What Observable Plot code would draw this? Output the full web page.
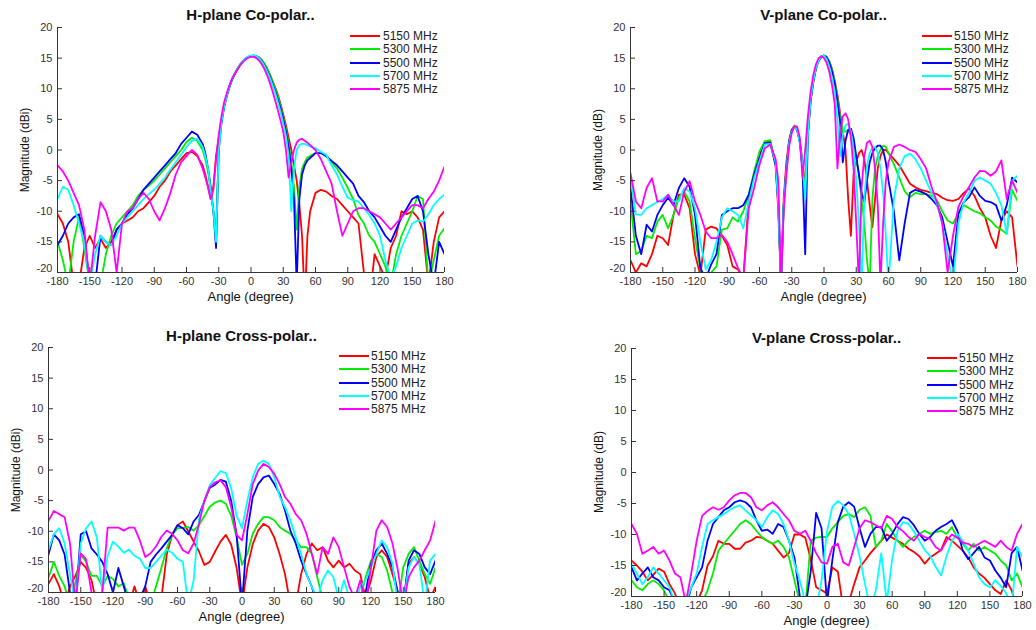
<!DOCTYPE html>
<html><head><meta charset="utf-8">
<script src="https://cdn.jsdelivr.net/npm/d3@7"></script>
<script src="https://cdn.jsdelivr.net/npm/@observablehq/plot@0.6"></script>
<style>
body{margin:0;background:#fff;font-family:"Liberation Sans",Arial,sans-serif;}
#root{position:relative;width:1036px;height:630px;overflow:hidden;background:#fff;}
.t{position:absolute;white-space:nowrap;color:#111;}
.title{font-weight:bold;font-size:15px;transform:translate(-50%,-50%);}
.ylab{font-size:12px;transform:translate(-50%,-50%) rotate(-90deg);}
.xlab{font-size:13px;transform:translate(-50%,-50%);}
.leg{position:absolute;font-size:12px;color:#222;}
.sw{position:absolute;width:30px;height:2px;}
.lt{position:absolute;transform:translateY(-50%);white-space:nowrap;}
</style></head><body><div id="root"></div>
<script>
// ---------- data ----------
const freqLabels = ["5150 MHz", "5300 MHz", "5500 MHz", "5700 MHz", "5875 MHz"];
const xTicks = [-180,-150,-120,-90,-60,-30,0,30,60,90,120,150,180];
const yTicks = [-20,-15,-10,-5,0,5,10,15,20];

// H-plane co-polar
const hCoAngles = [-180,-175,-170,-165,-160,-155,-150,-145,-140,-135,-130,-125,-120,-115,-110,-105,-100,-95,-90,-85,-80,-75,-70,-65,-60,-55,-50,-45,
 -42.5,-40,-37.5,-35,-32.5,-30,-27.5,-25,-22.5,-20,-17.5,-15,-12.5,-10,-7.5,-5,-2.5,0,2.5,5,7.5,10,12.5,15,17.5,20,22.5,25,27.5,30,32.5,35,37.5,40,42.5,45,47.5,50,52.5,55,
 60,65,70,75,80,85,90,95,100,105,110,115,120,125,130,135,140,145,150,155,160,165,170,175,180];
const hCo5150 = [-10.5,-12,-15,-22,-22,-16,-14,-16,-14.5,-16,-15,-13,-12,-11.5,-11,-10,-9.5,-8.5,-7.5,-6,-5,-3.5,-2.5,-1.5,-0.5,-0.3,-1,-2.5,
 -4,-6,-8,-6,-1,2,4.8,7.2,9,10.4,11.6,12.5,13.3,14,14.5,14.9,15.2,15.3,15.4,15.3,15.1,14.7,14.1,13.3,12.4,11.3,10.2,9,7.5,5.8,4,2,0,-2.5,-5,-9,-14,-25,-14,-10,
 -7,-6.5,-6.8,-7.5,-8,-9,-10,-11,-12,-20,-25,-17,-19,-21,-16,-14,-10,-10.5,-10,-11,-13,-22,-15,-11,-10];
const hCo5300 = [-15,-18,-22,-15,-11,-16,-22,-22,-22,-17,-14,-12,-11,-10,-9,-7.5,-6.5,-5.8,-5,-4,-3,-2,-1,0,1.3,2,1.5,0,
 -1.5,-3.5,-6.5,-10,-13,1,4.6,7.1,8.9,10.4,11.6,12.5,13.3,14,14.5,14.9,15.2,15.3,15.4,15.3,15.1,14.7,14.1,13.3,12.3,11.2,10,8.7,7.2,5.3,3.3,1,-2,-6,-13,-6,-3,-2,-1.2,-1,
 -0.5,-0.5,-1,-2,-3,-4.5,-6.2,-8,-10.6,-12,-14,-15,-17,-19,-22,-17,-14,-12,-10,-7.5,-8,-22,-18,-14,-12.8];
const hCo5500 = [-15.5,-14,-12,-11,-10.5,-14,-22,-22,-14,-15,-15.5,-13,-12,-10.5,-9.5,-8,-6.5,-5.5,-4.5,-3.5,-2.5,-1.5,-0.5,1,2,3,2.5,1,
 -0.5,-3,-6,-10,-16,0,4.4,7,8.8,10.3,11.5,12.4,13.2,13.9,14.5,14.9,15.2,15.3,15.4,15.3,15,14.5,13.8,12.9,12,10.8,9.6,8.2,6.8,5,3,0.5,-3,-8,-22,-8,-4,-2.5,-1.7,-1.3,
 -0.5,-0.5,-1,-1.8,-2.5,-3.5,-4.5,-5.5,-7.5,-8.5,-10,-11,-12.5,-14,-15,-13,-11,-9.5,-8,-7.5,-10,-17,-22,-15,-17];
const hCo5700 = [-8,-6,-6.5,-9,-12,-15,-22,-17,-14,-15,-15.5,-14,-12,-11,-10,-9,-8,-7.2,-6.5,-5.5,-4.5,-3.2,-2,-0.8,0.5,1.5,1.8,0.5,
 -1,-3,-6.5,-10,-15,0,4.5,7.1,8.9,10.4,11.6,12.5,13.3,14,14.6,15,15.3,15.4,15.5,15.3,15,14.4,13.7,12.8,11.8,10.6,9.3,7.8,6.2,4.3,2.3,-1,-10,-3,0,0.8,1,1,0.8,0.6,
 0.3,-0.3,-0.8,-2.5,-4,-6,-7.8,-8.2,-8.4,-9.5,-10.6,-12,-14,-18,-21,-19,-16,-14,-12,-11.5,-11.7,-10.5,-9,-8,-7.3];
const hCo5875 = [-2.5,-3.5,-5,-7,-9,-13,-22,-14,-8.5,-10,-13,-20,-12,-10,-9.5,-8,-7,-8,-10,-11.5,-9.5,-7,-4,-2,-1,0,-0.8,-3,
 -4.5,-6,-8,-6.5,-1.5,2.5,5.5,7.8,9.3,10.6,11.7,12.5,13.2,13.9,14.4,14.8,15.1,15.2,15.2,15,14.6,14,13.2,12.2,11,9.6,8.1,6.5,4.8,3,0,-4.5,-2,0,1.2,1.7,1.8,1.5,1.2,0.8,
 0,-1.5,-3.5,-5.5,-10,-14,-12,-10,-9.5,-9.5,-10,-10.5,-11,-12,-13,-12,-11,-10,-9,-9,-9.5,-8,-6.8,-5,-2.7];

// V-plane co-polar
const vCoAngles = [-180,-175,-170,-165,-160,-155,-150,-145,-140,-135,-130,-125,-120,-115,-110,-105,-100,-95,-90,-85,-80,-75,-70,-65,-60,-55,-50,-45,
 -42.5,-40,-37.5,-35,-32.5,-30,-27.5,-25,-22.5,-20,-17.5,-15,-12.5,-10,-7.5,-5,-2.5,0,2.5,5,7.5,10,12.5,15,17.5,20,22.5,25,27.5,30,32.5,35,37.5,40,42.5,45,47.5,50,52.5,55,57.5,60,
 65,70,75,80,85,90,95,100,105,110,115,120,125,130,135,140,145,150,155,160,165,170,175,180];
const vCo5150 = [-18,-20,-18.5,-19,-17,-14,-14.4,-15.5,-10.6,-7.3,-7.3,-9.5,-17,-20.5,-13,-12.5,-12.8,-14,-15.5,-19,-19.5,-21,-8,-4,-0.8,1.4,1.3,-2.5,
 -10,-22,-8,-2,1.5,3.3,3.8,3.3,1.5,-2,-6,2.5,8,11,13.3,14.6,15.2,15.4,15.2,14.5,13.2,11.3,9,6,3,0,-8,-14,-4,-2,-0.5,0,-1.5,-5,-9,-12.6,-8,-3,-1,0,0,-0.5,
 -1.5,-2.5,-4,-5.5,-6.1,-6.5,-6.7,-7,-7.2,-7.8,-8.2,-8.3,-8,-7,-6.3,-7.5,-9.5,-11,-14,-16,-11.5,-10,-11,-19];
const vCo5300 = [-8.5,-17,-16.5,-14,-14.4,-11.7,-10.6,-12.8,-10.6,-7.8,-6.8,-8.4,-14.4,-19.5,-21,-20,-19,-13,-12.8,-11,-11.7,-10,-7.3,-3.5,-0.2,1.4,1.6,-2,
 -8,-22,-9,-3,1.5,3.3,4,3.5,1.5,-2,-7,2.5,8,11.2,13.4,14.7,15.3,15.4,15.2,14.4,13,11,8.5,5.5,3,3,3.2,2.5,1,-1.5,-4,-8,-12,-18,-22,-8,-3,-1,0,0.7,0.5,-0.5,
 -2.3,-4.5,-6.7,-7.7,-7,-7.2,-7.2,-7.5,-8.2,-10,-11.5,-12,-10.4,-9,-9.5,-10,-10.3,-11,-11.5,-12.5,-13,-13.7,-6.5,-8.3];
const vCo5500 = [-6.2,-14,-17,-12.2,-13.3,-10.6,-9,-7.8,-9,-6.2,-4.6,-6,-10.6,-19.3,-21,-18.7,-17,-10.6,-10,-9.5,-9.5,-9,-7.3,-4,-1.3,1.1,1.2,-2.5,
 -9,-22,-9,-3,1.3,3.2,3.8,3.3,1.2,-3,-17,2.5,8,11.2,13.3,14.6,15.2,15.4,15.1,14.2,12.8,10.8,8,4.5,-2,1.5,3.3,3.5,2,-1,-4,-7,-8.5,-5,-2,-0.5,0.3,0.7,0.7,0,-2,-5,
 -10,-18,-12,-7,-6.5,-6.8,-7.2,-8,-9,-11,-15,-19,-10.4,-8.5,-7.7,-6.1,-7.5,-8.3,-8.5,-9,-11.5,-9,-4.5,-5.3];
const vCo5700 = [-4.5,-10.5,-10.6,-9.5,-9,-8.5,-8,-7.3,-8.4,-8.4,-6.2,-6.8,-9.5,-15,-19.5,-18,-15,-11,-9.5,-10,-10.6,-12.8,-8.5,-4.6,-1.8,0.9,1,-2,
 -9,-22,-9,-3.5,1,3,3.7,3.3,1.2,-2.5,-8,2.5,8.3,11.3,13.4,14.6,15.3,15.4,14.8,13.6,11.8,9.5,5,-1,2.5,4,4.3,3,0,-5,-12,-22,-8,-2.5,-0.5,0.4,0.5,-0.5,-3,-7,-14,-22,
 -8,-3,-1,-0.6,-1.5,-3,-5,-7,-8.8,-12,-17,-22,-12,-8.5,-7,-5,-4.5,-5,-5.5,-7,-9,-13.7,-5,-4.2];
const vCo5875 = [-3.8,-8.4,-9.5,-6.2,-4.6,-8.4,-8.4,-7.3,-9,-10.6,-6.8,-5.1,-8.4,-10.6,-13.3,-14.4,-14.4,-13.9,-15,-17,-19.3,-21,-9.5,-6.2,-2.4,0.3,0.9,-1.5,
 -5,-22,-10,-4,0.5,2.8,3.9,3.8,2,-4.5,0,5.5,9.5,12.2,14,15,15.3,15,14.2,12.7,10.5,7.5,-3,3,5.5,6,5,2,-3,-12,-22,-6,-1,1.2,1.5,0.5,-3,-9,-22,-12,-5,-2,
 0.5,0.9,0.5,0,-0.3,-1.5,-3,-6,-8.5,-12,-20,-14,-9.3,-7.5,-6,-4.5,-3.4,-3.5,-4.2,-3.5,-1.7,-8,-5,-7];

// cross-polar panels share a 5-degree grid
const xAngles = [-180,-175,-170,-165,-160,-155,-150,-145,-140,-135,-130,-125,-120,-115,-110,-105,-100,-95,-90,-85,-80,-75,-70,-65,-60,-55,-50,-45,-40,-35,-30,-25,-20,-15,-10,-5,
 0,5,10,15,20,25,30,35,40,45,50,55,60,65,70,75,80,85,90,95,100,105,110,115,120,125,130,135,140,145,150,155,160,165,170,175,180];

// H-plane cross-polar
const hX5150 = [-18.6,-17,-19,-22,-19,-17.3,-15,-16,-18,-22,-22,-22,-22,-22,-22,-22,-19,-22,-19,-22,-22,-21,-13.8,-10.6,-9,-8.4,-10,-11.7,-13.3,-15.5,
 -15,-13.3,-11.7,-10.6,-12.2,-16,-22,-15.9,-12.1,-9.9,-8.8,-9.3,-11,-13.7,-17,-22,-22,-17,-13.7,-12,-13.1,-12.6,-14.8,-15.9,-14.8,-15.9,-15.3,-16.4,-17,-21,
 -18,-14.2,-13.1,-14.2,-17,-20,-22,-15.3,-14.2,-15.3,-17.5,-21,-19.1];
const hX5300 = [-17.6,-15,-17.3,-19,-22,-18.5,-13.8,-15,-17.3,-17.3,-19,-17.3,-17.8,-19,-18.5,-21,-22,-22,-22,-22,-19,-16,-12.8,-10.6,-9.5,-9.5,-9.3,-9.9,-9,-7.5,
 -6,-5.3,-5,-5.5,-7.5,-11,-15.5,-13.7,-10.4,-8.8,-7.7,-7.7,-8.2,-9.3,-9.9,-10.4,-11.5,-12.6,-12.6,-13.7,-17.5,-21,-22,-22,-22,-22,-22,-22,-21,-17.5,
 -14.8,-13.7,-14.2,-16.4,-20,-22,-15.9,-13.7,-12.6,-14.8,-17,-18.6,-15.9];
const hX5500 = [-13.8,-10.5,-11.5,-13.8,-20,-22,-10.5,-10,-12.8,-13.8,-15,-17,-20,-16,-19,-22,-22,-21,-19,-15,-13.8,-12.8,-11.7,-10.6,-9,-9.5,-10.5,-8.4,-7.3,-5.1,
 -2.9,-2.4,-1.6,-1.9,-5.1,-10.6,-22,-9.9,-4.4,-2.3,-1.2,-0.9,-2.3,-3.9,-6.6,-9.9,-12,-14.8,-17,-19.1,-22,-22,-22,-22,-22,-22,-22,-22,-22,-20,
 -15.3,-13.1,-12,-13.7,-15.9,-20,-22,-14.8,-13.1,-13.7,-15.9,-17,-14.8];
const hX5700 = [-13,-10.5,-9.5,-12,-17,-22,-12,-9.5,-8.4,-11,-20,-14,-11.7,-12.5,-13.5,-13,-14,-14.5,-16,-16,-15,-14,-13,-13.5,-14.5,-15,-22,-18,-8,-5,
 -2.5,-1.3,-0.2,-0.5,-3,-7.5,-9.5,-5,-1.2,1,1.5,1,-1.2,-4.3,-6.1,-8.2,-11,-13.7,-17,-19.1,-21,-18,-16.4,-17.5,-21,-18,-21,-22,-19.1,-18,
 -15.9,-13.7,-11.5,-12.6,-15.3,-22,-22,-15.9,-14.2,-15.3,-22,-14.8,-13.7];
const hX5875 = [-8.3,-6.7,-7.2,-7.7,-12,-22,-13.6,-14.6,-20,-22,-20,-9.4,-9.4,-9.4,-9.9,-9.4,-9.4,-11.5,-14.2,-13.6,-12.5,-10.9,-9.9,-10.4,-11.5,-13.1,-13.6,-12,-8.8,-5,
 -2.8,-2,-1.7,-2.8,-6.1,-10.6,-11.5,-7.2,-2.3,-0.1,1,0.5,-0.6,-2.3,-4.4,-5.5,-7.2,-8.2,-10.4,-13.7,-17,-12.6,-13.7,-11,-12.6,-15.9,-19.1,-21,-18,-22,
 -15.9,-9.9,-8.2,-9.3,-12,-16.4,-22,-17.5,-15.9,-14.8,-13.1,-11.5,-8.3];

// V-plane cross-polar
const vX5150 = [-14.2,-15,-16,-17.4,-16.5,-15.5,-16,-18,-19.5,-22,-22,-22,-21,-19,-15,-13.5,-11,-11.5,-11.5,-12.3,-12.3,-11.3,-11,-10.4,-10.5,-11,-11.5,-12.6,-13.7,-13,
 -10,-10,-10.5,-14,-18.5,-19,-19.5,-15.3,-16,-22,-21,-18,-15.3,-14.2,-13,-12,-11,-10,-10.5,-11,-11.5,-12.3,-12.8,-13.5,-14.7,-13.7,-13.1,-12.5,-10.4,-11,
 -11.8,-12.6,-13.7,-15.3,-16.3,-17,-18,-19,-19.6,-17.4,-19,-22,-22];
const vX5300 = [-17.4,-18.5,-19,-18,-17.4,-18,-19,-21,-22,-22,-22,-21,-20,-21,-19,-16.3,-12.6,-11.5,-10.4,-9.4,-8.3,-7.7,-8.3,-9.4,-10.4,-11,-11.5,-11,-12,-13.7,
 -17.4,-21,-22,-11,-10.5,-10.4,-10.4,-9,-8,-7,-6.7,-7.2,-6,-5.6,-7,-12,-11,-8.3,-9.5,-11,-12,-11,-10.4,-9.9,-9.4,-9.9,-9.6,-9.4,-9.9,-8.8,
 -10.5,-11.5,-12.6,-11.5,-12.6,-12,-12.6,-13.1,-14.2,-15,-17.4,-16.3,-18.5];
const vX5500 = [-15.3,-17.4,-16.3,-15.3,-16.9,-17.4,-18.5,-19,-21,-22,-22,-18.5,-16.9,-15.3,-11,-8.3,-7.2,-6.1,-5.6,-4.8,-4.5,-4.8,-5.6,-7.7,-9.4,-9.2,-9.9,-8.3,-8.8,-11,
 -13.7,-20,-22,-16,-6.5,-9,-21,-14,-8,-5.5,-4.8,-5.5,-9,-12,-9.9,-8.8,-8.8,-11,-9.9,-8.3,-7.2,-7.5,-8.5,-9.9,-11,-10.4,-9.4,-8.8,-8.3,-7.7,
 -9.4,-12.6,-14,-13,-12,-13.7,-14.2,-15.8,-17,-18.5,-13,-12,-15.8];
const vX5700 = [-14.7,-16.3,-18,-16.9,-15.3,-16.3,-17.4,-18.5,-21,-22,-21,-18.5,-16.3,-12,-8.3,-7.7,-7.2,-6.7,-6.1,-5.6,-5.3,-6.1,-6.9,-7.7,-8.8,-7.2,-6.1,-6.7,-8.3,-11,
 -14.7,-17.4,-21,-22,-22,-17.4,-9.5,-5.5,-4.6,-5.3,-6.7,-9.9,-13.5,-18,-22,-19,-13,-21,-14,-9.4,-8,-8.3,-9.5,-11,-12.5,-13.5,-15.2,-16.6,-13.5,-11,
 -9.9,-11,-12.6,-14.7,-16.9,-18,-18.5,-17.4,-18.3,-19.5,-22,-12,-13.7];
const vX5875 = [-8.3,-9.9,-13.1,-12.6,-12,-13.1,-12.6,-14.2,-16.3,-16.9,-21,-16.3,-11,-7,-6.2,-5.6,-6,-5.6,-4.5,-3.7,-3.3,-3.3,-4,-5.6,-6.1,-5.3,-4.8,-5.6,-6.7,-7.7,
 -9.4,-9.9,-9.4,-11,-13,-14.5,-14.7,-12,-11.5,-14.5,-15,-12,-9,-7.7,-8,-8.5,-9,-7,-7.5,-8.8,-9.5,-10.4,-11,-9.9,-10.4,-10.7,-12,-12.6,-11,-10,
 -10.5,-11.3,-11.5,-12,-11.5,-11,-11.5,-12,-11,-12,-12.6,-9.9,-8.3];

const seriesColors = ["#ff0000", "#00ee00", "#0000ff", "#00ffff", "#ff00ff"];

// ---------- drawing ----------
const root = document.getElementById("root");
const FONT = '"Liberation Sans", Arial, sans-serif';

function addText(cls, txt, x, y) {
  const d = document.createElement("div");
  d.className = "t " + cls;
  d.textContent = txt;
  d.style.left = x + "px"; d.style.top = y + "px";
  root.append(d);
}

function addLegend(swX, txX, y0, dy) {
  freqLabels.forEach((lab, i) => {
    const y = y0 + i * dy;
    const s = document.createElement("div");
    s.className = "sw"; s.style.left = swX + "px"; s.style.top = (y - 1) + "px";
    s.style.background = seriesColors[i];
    root.append(s);
    const t = document.createElement("div");
    t.className = "leg lt"; t.style.left = txX + "px"; t.style.top = y + "px";
    t.textContent = lab;
    root.append(t);
  });
}

function panel(cfg) {
  const {L, R, T, B, angles, series, title, ylabel, titleY, legend} = cfg;
  series.forEach((s, i) => { if (s.length !== angles.length) throw new Error(title + " series " + i + " length " + s.length + " vs " + angles.length); });
  const mL = 45, mR = 25, mT = 8, mB = 22;
  const pw = R - L, ph = B - T;
  const rows = [];
  series.forEach((vals, i) => vals.forEach((v, j) => rows.push({angle: angles[j], value: v, freq: freqLabels[i]})));
  const fmt = d => String(d);
  const chart = Plot.plot({
    width: pw + mL + mR, height: ph + mT + mB,
    marginLeft: mL, marginRight: mR, marginTop: mT, marginBottom: mB,
    style: {fontFamily: FONT, fontSize: "11px", color: "#333", background: "transparent", overflow: "visible"},
    x: {domain: [-180, 180], label: null},
    y: {domain: [-20, 20], label: null},
    color: {domain: freqLabels, range: seriesColors},
    marks: [
      Plot.line(rows, {x: "angle", y: "value", z: "freq", stroke: "freq", strokeWidth: 1.8, clip: true}),
      Plot.axisX(xTicks, {tickSize: 0, tickPadding: 5, tickFormat: fmt, label: null}),
      Plot.axisY(yTicks.filter(d => d > -20), {tickSize: 0, tickPadding: 5, tickFormat: fmt, label: null}),
      Plot.axisY(yTicks.filter(d => d === -20), {tickSize: 0, tickPadding: 5, tickFormat: fmt, label: null, dy: -4}),
      Plot.ruleX([-180], {stroke: "#333"}),
      Plot.ruleY([-20], {stroke: "#333"}),
      Plot.tickX(xTicks, {x: d => d, stroke: "#333", insetTop: ph - 5}),
      Plot.tickY(yTicks, {y: d => d, stroke: "#333", insetRight: pw - 5})
    ]
  });
  chart.style.position = "absolute";
  chart.style.left = (L - mL) + "px";
  chart.style.top = (T - mT) + "px";
  root.append(chart);
  addText("title", title, (L + R) / 2, titleY);
  addText("ylab", ylabel, L - 32, (T + B) / 2);
  addText("xlab", "Angle (degree)", (L + R) / 2, B + 24);
  addLegend(legend[0], legend[1], legend[2], 13.3);
}

panel({L: 57, R: 444, T: 27, B: 272, angles: hCoAngles,
  series: [hCo5150, hCo5300, hCo5500, hCo5700, hCo5875],
  title: "H-plane Co-polar..", ylabel: "Magnitude (dBi)", titleY: 14, legend: [350, 383, 36]});
panel({L: 630, R: 1017, T: 27, B: 272, angles: vCoAngles,
  series: [vCo5150, vCo5300, vCo5500, vCo5700, vCo5875],
  title: "V-plane Co-polar..", ylabel: "Magnitude (dB)", titleY: 14, legend: [922, 954, 36]});
panel({L: 48, R: 435, T: 347, B: 592, angles: xAngles,
  series: [hX5150, hX5300, hX5500, hX5700, hX5875],
  title: "H-plane Cross-polar..", ylabel: "Magnitude (dBi)", titleY: 335, legend: [339, 371, 356]});
panel({L: 631, R: 1022, T: 348, B: 596, angles: xAngles,
  series: [vX5150, vX5300, vX5500, vX5700, vX5875],
  title: "V-plane Cross-polar..", ylabel: "Magnitude (dB)", titleY: 337, legend: [927, 959, 358]});
</script></body></html>
